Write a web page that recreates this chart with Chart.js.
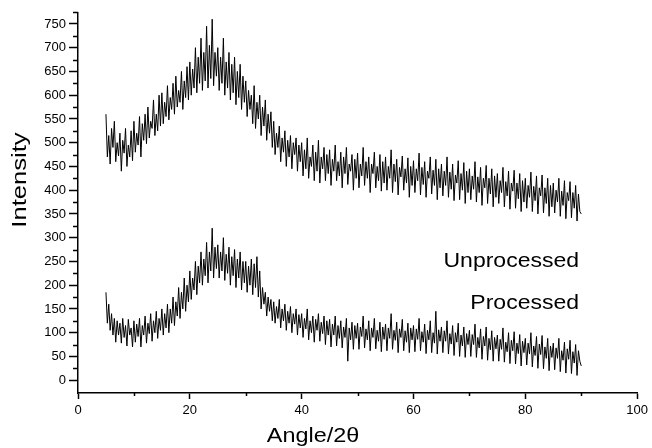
<!DOCTYPE html>
<html>
<head>
<meta charset="utf-8">
<script src="https://cdn.jsdelivr.net/npm/chart.js@4"></script>
<style>
  body { margin: 0; background: #fff; }
  canvas { display: block; }
</style>
</head>
<body>
<canvas id="xrdChart" width="652" height="448"></canvas>
<script>
// sampling grid of the scans, degrees 2-theta
const angleStart = 5;
const angleStep = 0.25;

// one value per 0.25 degree from 5 to 90
const unprocessed = [
    560, 470, 515, 455, 530, 490, 545, 460, 500, 472, 520, 440, 505, 478, 530, 450, 495, 470, 525, 462,
    545, 480, 520, 495, 555, 470, 540, 505, 560, 498, 575, 510, 545, 530, 590, 515, 560, 525, 600, 535,
    605, 540, 585, 555, 620, 548, 595, 570, 625, 560, 640, 575, 610, 585, 650, 570, 630, 595, 660, 590,
    670, 600, 655, 615, 700, 605, 680, 625, 720, 610, 690, 630, 745, 615, 705, 635, 760, 620, 690, 640,
    700, 610, 680, 625, 720, 600, 670, 615, 690, 590, 665, 605, 680, 580, 650, 595, 665, 570, 640, 585,
    630, 555, 610, 570, 600, 540, 620, 530, 585, 550, 600, 515, 575, 535, 590, 505, 560, 520, 565, 490,
    545, 475, 520, 490, 535, 460, 510, 480, 525, 450, 505, 470, 515, 445, 500, 475, 510, 440, 495, 460,
    500, 430, 485, 445, 510, 425, 470, 450, 495, 420, 480, 440, 505, 415, 470, 445, 490, 420, 475, 435,
    485, 410, 465, 440, 495, 420, 460, 430, 480, 405, 470, 435, 490, 412, 455, 440, 475, 400, 465, 425,
    478, 405, 455, 430, 490, 410, 460, 425, 470, 395, 455, 435, 480, 405, 450, 420, 475, 398, 460, 415,
    470, 400, 450, 425, 485, 395, 455, 418, 465, 390, 448, 428, 472, 400, 445, 415, 468, 385, 450, 410,
    462, 395, 445, 420, 478, 390, 448, 412, 460, 385, 440, 425, 470, 392, 442, 410, 465, 380, 445, 405,
    455, 388, 440, 410, 470, 385, 438, 402, 455, 378, 432, 415, 462, 380, 435, 400, 458, 372, 440, 395,
    445, 380, 430, 402, 460, 375, 428, 395, 448, 368, 425, 405, 452, 372, 425, 392, 445, 365, 430, 385,
    435, 372, 420, 395, 448, 365, 418, 388, 440, 360, 415, 398, 442, 362, 415, 382, 435, 355, 420, 375,
    425, 362, 410, 385, 438, 355, 408, 378, 430, 350, 405, 388, 432, 352, 405, 372, 425, 345, 410, 365,
    415, 352, 400, 375, 425, 345, 398, 368, 420, 340, 395, 378, 418, 342, 395, 362, 410, 335, 392, 355,
    350
];

const processed = [
    185, 120, 160, 105, 140, 95, 130, 80, 125, 95, 120, 78, 130, 90, 115, 72, 128, 95, 110, 70,
    125, 80, 118, 92, 130, 70, 115, 95, 135, 78, 120, 98, 140, 82, 125, 100, 145, 88, 130, 105,
    150, 95, 140, 110, 160, 100, 150, 120, 175, 115, 165, 135, 195, 130, 185, 150, 215, 145, 200, 165,
    230, 170, 215, 190, 250, 180, 240, 205, 270, 200, 255, 220, 290, 205, 270, 230, 320, 215, 280, 235,
    285, 215, 270, 230, 300, 210, 265, 225, 280, 200, 260, 220, 275, 195, 255, 215, 270, 190, 250, 205,
    250, 185, 240, 200, 255, 180, 245, 195, 260, 175, 230, 150, 195, 160, 185, 135, 175, 145, 170, 125,
    165, 120, 155, 130, 170, 110, 150, 125, 160, 105, 145, 120, 155, 100, 140, 118, 150, 95, 138, 110,
    140, 90, 130, 108, 150, 85, 125, 100, 135, 80, 128, 105, 140, 82, 122, 98, 135, 75, 125, 95,
    128, 70, 118, 95, 135, 72, 115, 88, 125, 68, 112, 90, 130, 40, 110, 85, 122, 65, 115, 88,
    120, 65, 112, 92, 135, 68, 108, 85, 125, 62, 110, 90, 130, 66, 105, 82, 122, 60, 112, 86,
    118, 62, 110, 88, 140, 65, 105, 84, 122, 58, 108, 90, 128, 62, 104, 80, 120, 58, 110, 85,
    115, 60, 108, 86, 130, 62, 102, 80, 118, 56, 105, 85, 125, 58, 100, 78, 145, 55, 106, 82,
    112, 58, 104, 82, 125, 55, 98, 76, 115, 52, 100, 80, 120, 50, 95, 72, 112, 48, 98, 75,
    105, 50, 96, 75, 118, 48, 90, 68, 108, 44, 92, 72, 112, 42, 88, 64, 104, 40, 90, 66,
    95, 40, 86, 65, 110, 38, 80, 60, 100, 35, 84, 62, 102, 34, 78, 56, 96, 30, 82, 58,
    88, 32, 78, 55, 100, 28, 72, 52, 92, 25, 76, 54, 94, 24, 70, 46, 88, 20, 72, 48,
    78, 22, 68, 46, 88, 18, 62, 42, 80, 15, 66, 44, 84, 14, 60, 36, 75, 10, 62, 40,
    30
];

const yTickValues = [0, 50, 100, 150, 200, 250, 300, 350, 400, 450, 500, 550, 600, 650, 700, 750];
const yMinorValues = [25, 75, 125, 175, 225, 275, 325, 375, 425, 475, 525, 575, 625, 675, 725, 775];
const xMinorValues = [10, 30, 50, 70, 90];

// text labels placed inside the plot (data coordinates)
const seriesLabels = [
    { text: 'Unprocessed', x: 89.6, y: 238 },
    { text: 'Processed', x: 89.6, y: 150 }
];

const fontFamily = '"Liberation Sans", Arial, sans-serif';

function toPoints(values) {
    return values.map((v, i) => ({ x: angleStart + i * angleStep, y: v }));
}

function stretchedText(ctx, text, x, y, size, align, sx, rotate) {
    ctx.save();
    ctx.translate(x, y);
    if (rotate) ctx.rotate(-Math.PI / 2);
    ctx.scale(sx, 1);
    ctx.font = size + 'px ' + fontFamily;
    ctx.textAlign = align;
    ctx.textBaseline = 'alphabetic';
    ctx.fillStyle = '#000';
    ctx.fillText(text, 0, 0);
    ctx.restore();
}

const decorations = {
    id: 'decorations',
    afterDraw(chart) {
        const { ctx, chartArea, scales } = chart;
        const xs = scales.x, ys = scales.y;

        ctx.save();
        ctx.strokeStyle = '#000';
        ctx.lineWidth = 1.5;
        ctx.beginPath();
        yMinorValues.forEach(v => {
            const py = Math.round(ys.getPixelForValue(v)) + 0.5;
            ctx.moveTo(chartArea.left - 5, py);
            ctx.lineTo(chartArea.left, py);
        });
        xMinorValues.forEach(v => {
            const px = Math.round(xs.getPixelForValue(v)) + 0.5;
            ctx.moveTo(px, chartArea.bottom);
            ctx.lineTo(px, chartArea.bottom + 3);
        });
        ctx.stroke();
        ctx.restore();

        seriesLabels.forEach(l => {
            stretchedText(ctx, l.text, xs.getPixelForValue(l.x), ys.getPixelForValue(l.y), 20, 'right', 1.15, false);
        });

        stretchedText(ctx, 'Angle/2θ', 313, chartArea.bottom + 49, 20, 'center', 1.17, false);
        stretchedText(ctx, 'Intensity', 26, 180, 20, 'center', 1.28, true);
    }
};

const ctx = document.getElementById('xrdChart');

const xrdChart = new Chart(ctx, {
    type: 'line',
    data: {
        datasets: [{
            label: 'Unprocessed',
            data: toPoints(unprocessed),
            borderColor: '#000',
            borderWidth: 1,
            pointRadius: 0,
            tension: 0
        }, {
            label: 'Processed',
            data: toPoints(processed),
            borderColor: '#000',
            borderWidth: 1,
            pointRadius: 0,
            tension: 0
        }]
    },
    options: {
        responsive: false,
        animation: false,
        layout: {
            padding: { left: 0, top: 13, right: 12, bottom: 0 }
        },
        plugins: {
            legend: { display: false },
            tooltip: { enabled: false }
        },
        scales: {
            x: {
                type: 'linear',
                min: 0,
                max: 100,
                border: { display: true, color: '#000', width: 1.5 },
                grid: { drawOnChartArea: false, drawTicks: true, tickLength: 6, tickColor: '#000', tickWidth: 1.5 },
                ticks: {
                    stepSize: 20,
                    color: '#000',
                    padding: 4,
                    maxRotation: 0,
                    font: { family: fontFamily, size: 13 }
                },
                afterFit(scale) { scale.height = 55; }
            },
            y: {
                min: -27,
                max: 773,
                border: { display: true, color: '#000', width: 1.5 },
                grid: { drawOnChartArea: false, drawTicks: true, tickLength: 9, tickColor: '#000', tickWidth: 1.5 },
                afterBuildTicks(scale) {
                    scale.ticks = yTickValues.map(v => ({ value: v }));
                },
                ticks: {
                    color: '#000',
                    padding: 3,
                    font: { family: fontFamily, size: 13 }
                },
                afterFit(scale) { scale.width = 78; }
            }
        }
    },
    plugins: [decorations]
});
</script>
</body>
</html>
